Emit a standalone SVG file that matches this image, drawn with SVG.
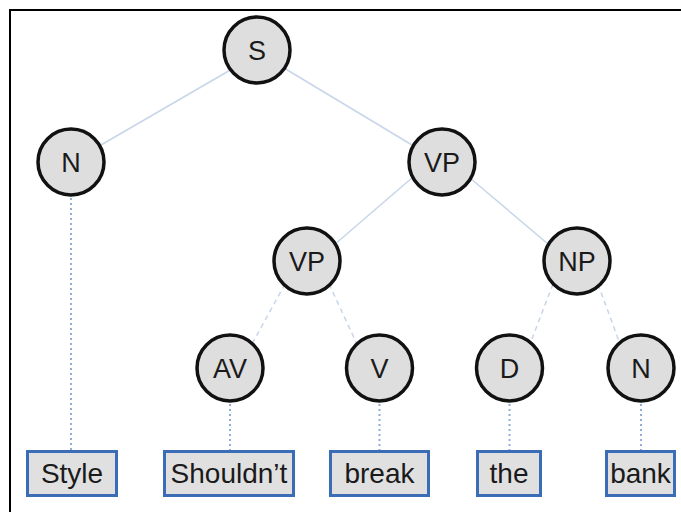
<svg xmlns="http://www.w3.org/2000/svg" width="681" height="512" viewBox="0 0 681 512">
<style>
.n circle{fill:#dedede;stroke:#111;stroke-width:3.5}
.n text,.w text{font-family:"Liberation Sans",Arial,sans-serif;fill:#1a1a1a;text-anchor:middle}
.n text{font-size:27px}
.w rect{fill:#e0e0e0;stroke:#3a6db5;stroke-width:3}
.w text{font-size:28px}
.e line{stroke:#c8d6ea;stroke-width:1.5;fill:none}
.e .dash{stroke-dasharray:5 4}
.e .dot{stroke:#8fadd8;stroke-width:2;stroke-dasharray:2 3}
</style>
<rect width="681" height="512" fill="#fff"/>
<path d="M10 512 V10 H681" fill="none" stroke="#000" stroke-width="2"/>
<g id="edges" class="e">
<line x1="232" y1="69" x2="101" y2="145"/>
<line x1="284" y1="68" x2="412" y2="145"/>
<line x1="413" y1="177" x2="334" y2="245"/>
<line x1="470" y1="178" x2="548" y2="244"/>
<line class="dash" x1="285" y1="284" x2="252" y2="344"/>
<line class="dash" x1="329" y1="284" x2="357" y2="344"/>
<line class="dash" x1="553" y1="284" x2="530" y2="344"/>
<line class="dash" x1="598" y1="284" x2="620" y2="344"/>
<line class="dot" x1="71" y1="198" x2="71" y2="450"/>
<line class="dot" x1="230" y1="404" x2="230" y2="450"/>
<line class="dot" x1="379.5" y1="404" x2="379.5" y2="450"/>
<line class="dot" x1="509.5" y1="404" x2="509.5" y2="450"/>
<line class="dot" x1="641" y1="404" x2="641" y2="450"/>
</g>
<g id="S" class="n"><circle cx="257" cy="50" r="33"/><text x="257" y="60">S</text></g>
<g id="N1" class="n"><circle cx="71" cy="162" r="33"/><text x="71" y="172">N</text></g>
<g id="VP1" class="n"><circle cx="442" cy="162" r="33"/><text x="442" y="172">VP</text></g>
<g id="VP2" class="n"><circle cx="307" cy="261" r="33"/><text x="307" y="271">VP</text></g>
<g id="NP" class="n"><circle cx="577" cy="261" r="33"/><text x="577" y="271">NP</text></g>
<g id="AV" class="n"><circle cx="230" cy="368" r="33"/><text x="230" y="378">AV</text></g>
<g id="V" class="n"><circle cx="379.5" cy="368" r="33"/><text x="379.5" y="378">V</text></g>
<g id="D" class="n"><circle cx="509.5" cy="368" r="33"/><text x="509.5" y="378">D</text></g>
<g id="N2" class="n"><circle cx="641" cy="368" r="33"/><text x="641" y="378">N</text></g>
<g id="w-style" class="w"><rect x="27.5" y="451.5" width="89" height="44"/><text x="72" y="483">Style</text></g>
<g id="w-shouldnt" class="w"><rect x="164.5" y="451.5" width="129" height="44"/><text x="229" y="483">Shouldn’t</text></g>
<g id="w-break" class="w"><rect x="330.5" y="451.5" width="98" height="44"/><text x="379.5" y="483">break</text></g>
<g id="w-the" class="w"><rect x="477.5" y="451.5" width="63" height="44"/><text x="509" y="483">the</text></g>
<g id="w-bank" class="w"><rect x="606.5" y="451.5" width="68" height="44"/><text x="640.5" y="483">bank</text></g>
</svg>
